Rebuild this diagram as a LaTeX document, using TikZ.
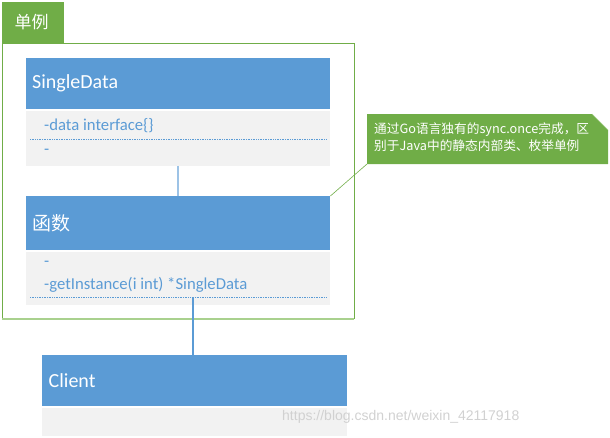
\documentclass[tikz,border=0pt]{standalone}
\usepackage{fontspec}
\setmainfont{Carlito}
\newfontfamily\cjk{Noto Sans CJK SC}
\newfontfamily\wmfont{Liberation Sans}
\usepackage{xcolor}
\usetikzlibrary{positioning}

\definecolor{grp}{HTML}{70AD47}
\definecolor{grplight}{HTML}{A9D18E}
\definecolor{hdrblue}{HTML}{5B9BD5}
\definecolor{linkblue}{HTML}{9DC3E6}
\definecolor{bodygray}{HTML}{F2F2F2}

\begin{document}
\begin{tikzpicture}[x=1pt,y=-1pt,
 hdr/.style={fill=hdrblue,text=white,anchor=north west,minimum width=304pt,
  text width=292pt,align=left,inner sep=6pt,font=\fontsize{20}{24}\selectfont},
 body/.style={fill=bodygray,minimum width=304pt,inner sep=0pt},
 member/.style={anchor=west,text=hdrblue,inner sep=0pt,font=\fontsize{16.7}{20}\selectfont},
 sep/.style={hdrblue,densely dotted,line width=0.7pt}]
\useasboundingbox (0,0) rectangle (610,437);
% group frame and tab
\fill[grp] (2,2) rectangle (64,43);
\node[text=white,anchor=west,font=\cjk\fontsize{17}{20}\selectfont] (tab) at (11,22) {单例};
\draw[grp,line width=1pt] (2,319) -- (2,43) -- (354,43) -- (354,319);
\draw[grplight,line width=2pt] (2,319) -- (354,319);
% SingleData
\node[hdr,minimum height=51pt] (sd) at (26,58) {SingleData};
\node[body,minimum height=55pt,below=1pt of sd] (sdbody) {};
\node[member] (sdattr) at (44,126) {-data interface\{\}};
\draw[sep] (30,139) -- (326,139);
\node[member] (sdop) at (44,152) {-};
% functions
\node[hdr,minimum height=54pt,font=\cjk\fontsize{19}{23}\selectfont] (fn) at (26,196) {函数};
\node[body,minimum height=53pt,below=1pt of fn] (fnbody) {};
\node[member] (fnattr) at (44,264) {-};
\node[member] (fnop) at (44,285) {-getInstance(i int) *SingleData};
\draw[sep] (30,297) -- (326,297);
\coordinate (fnsep) at (193,297);
% client
\node[hdr,minimum height=51pt,minimum width=305pt] (client) at (42,355) {Client};
\node[body,minimum height=28pt,minimum width=305pt,below=1pt of client] (clientbody) {};
% links
\draw[linkblue,line width=2pt] (sdbody.south) -- (fn.north);
\draw[hdrblue,line width=1.5pt] (fnsep) -- (fnsep |- client.north);
% note
\fill[grp] (367,114) -- (592,114) -- (608,130) -- (608,164) -- (367,164) -- cycle;
\draw[grplight,line width=0.6pt] (592,114) -- (608,130);
\node[anchor=north west,text=white,align=left,inner sep=0pt,
 font=\cjk\fontsize{12.7}{17}\selectfont] (note) at (374,123)
 {通过Go语言独有的sync.once完成，区\\别于Java中的静态内部类、枚举单例};
\coordinate (notetip) at (367,164);
\draw[grp,line width=0.6pt] (notetip) -- (fn.north east);
% watermark
\node[anchor=west,text=black!18,inner sep=0pt,font=\wmfont\fontsize{14}{17}\selectfont] (wm) at (282,417) {https://blog.csdn.net/weixin\_42117918};
\end{tikzpicture}
\end{document}
